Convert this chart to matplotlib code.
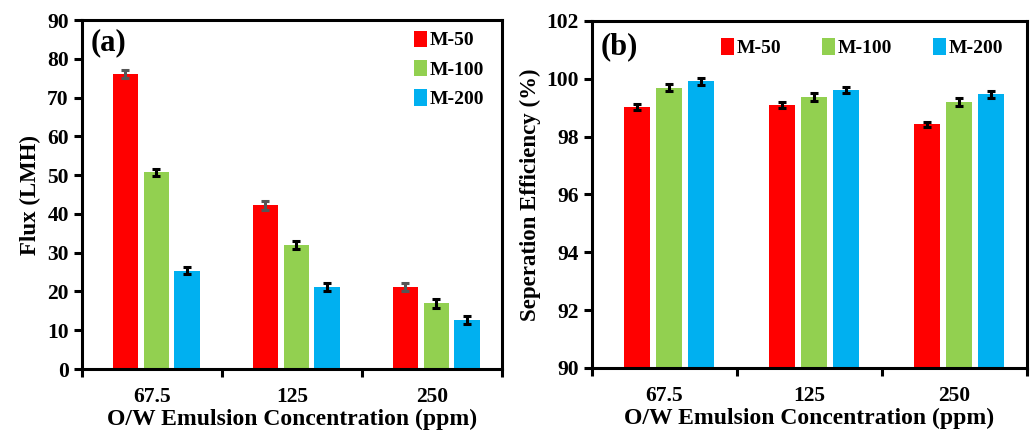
import matplotlib.pyplot as plt
import numpy as np

plt.rcParams["font.family"] = "Liberation Serif"
plt.rcParams["font.weight"] = "bold"

concentrations = ["67.5", "125", "250"]
membranes = ["M-50", "M-100", "M-200"]
colors = ["#FF0000", "#92D050", "#00B0F0"]

flux = {
    "M-50": [76.0, 42.2, 21.1],
    "M-100": [50.7, 32.0, 16.9],
    "M-200": [25.4, 21.1, 12.6],
}
flux_err = {
    "M-50": [1.0, 1.1, 1.1],
    "M-100": [1.0, 1.0, 1.1],
    "M-200": [1.0, 1.0, 1.1],
}
efficiency = {
    "M-50": [99.02, 99.09, 98.42],
    "M-100": [99.69, 99.36, 99.19],
    "M-200": [99.91, 99.62, 99.46],
}
efficiency_err = {
    "M-50": [0.10, 0.10, 0.09],
    "M-100": [0.12, 0.14, 0.13],
    "M-200": [0.12, 0.11, 0.11],
}


def style_axes(ax):
    for s in ax.spines.values():
        s.set_linewidth(2.2)
    ax.set_xlim(-0.5, 2.5)
    ax.set_xticks(np.arange(3))
    ax.set_xticklabels(concentrations)
    ax.set_xticks(np.arange(-0.5, 3, 1), minor=True)
    ax.tick_params(axis="x", which="major", length=0, labelsize=15.5, pad=13)
    ax.tick_params(axis="x", which="minor", length=6, width=2.2, direction="out")
    ax.tick_params(axis="y", length=6, width=2.2, direction="out", labelsize=15.5)
    ax.set_xlabel("O/W Emulsion Concentration (ppm)", fontsize=17,
                  fontweight="bold", labelpad=1)


def draw_bars(ax, values, errors, err_colors):
    x = np.arange(len(concentrations))
    width = 0.18
    step = 0.22
    for i, m in enumerate(membranes):
        ax.bar(x + (i - 1) * step + 0.03, values[m], width, color=colors[i], label=m)
        ax.errorbar(x + (i - 1) * step + 0.03, values[m], yerr=errors[m], fmt="none",
                    ecolor=err_colors[i], elinewidth=2.2, capsize=3, capthick=2.2)


fig = plt.figure(figsize=(10.35, 4.37), dpi=100)

# (a) flux
ax1 = fig.add_axes([0.0792, 0.1556, 0.4058, 0.7986])
draw_bars(ax1, flux, flux_err, ["#555555", "black", "black"])
style_axes(ax1)
ax1.set_ylim(0, 90)
ax1.set_yticks(range(0, 91, 10))
ax1.set_ylabel("Flux (LMH)", fontsize=16.5, fontweight="bold", labelpad=4)
ax1.text(0.02, 0.935, "(a)", transform=ax1.transAxes, fontsize=22,
         fontweight="bold", va="center")
ax1.legend(loc="upper right", bbox_to_anchor=(1.0, 1.02), frameon=False,
           fontsize=14, handlelength=0.65, handleheight=0.9, handletextpad=0.15,
           labelspacing=0.55)

# (b) separation efficiency
ax2 = fig.add_axes([0.572, 0.158, 0.4203, 0.794])
draw_bars(ax2, efficiency, efficiency_err, ["black", "black", "black"])
style_axes(ax2)
ax2.set_ylim(90, 102)
ax2.set_yticks(range(90, 103, 2))
ax2.set_ylabel("Seperation Efficiency (%)", fontsize=16.5, fontweight="bold",
               labelpad=4)
ax2.text(0.02, 0.925, "(b)", transform=ax2.transAxes, fontsize=22,
         fontweight="bold", va="center")
ax2.legend(loc="upper right", bbox_to_anchor=(0.985, 1.0), frameon=False,
           fontsize=14, ncol=3, handlelength=0.65, handleheight=0.9,
           handletextpad=0.15, columnspacing=2.1)

fig.savefig("out.png", dpi=100)
